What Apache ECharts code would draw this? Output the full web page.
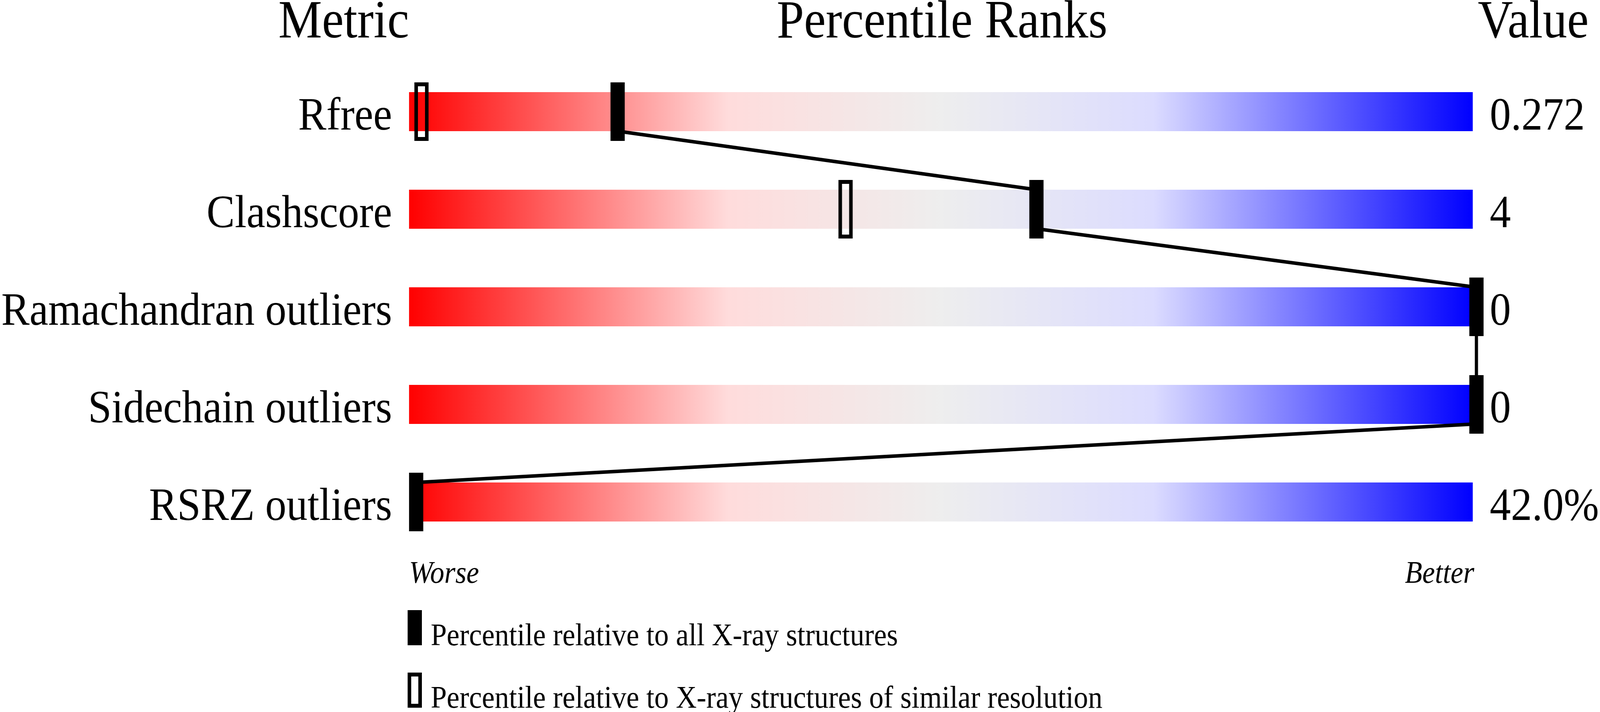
<!DOCTYPE html>
<html><head><meta charset="utf-8">
<script src="https://cdn.jsdelivr.net/npm/echarts@6/dist/echarts.min.js"></script>
<style>html,body{margin:0;padding:0;background:#fff;overflow:hidden}#c{width:4506px;height:1824px;transform-origin:0 0}</style>
</head><body><div id="c"></div>
<script>
// ---- data ----
const metrics = ['Rfree', 'Clashscore', 'Ramachandran outliers', 'Sidechain outliers', 'RSRZ outliers'];
const valueLabels = ['0.272', '4', '0', '0', '42.0%'];
const pctAll = [19, 58.5, 100, 100, 0];            // percentile vs all X-ray structures
const pctSimilar = [0.5, 40.5, null, null, null];   // percentile vs similar resolution
const scaleFull = [100, 100, 100, 100, 100];
const headers = ['Metric', 'Percentile Ranks', 'Value'];
const scaleEnds = ['Worse', 'Better'];
const legendTexts = ['Percentile relative to all X-ray structures', 'Percentile relative to X-ray structures of similar resolution'];

const FONT = "'Liberation Serif', 'Times New Roman', Times, serif";
const allData = pctAll.map((v, i) => [v, i]);
const simData = [];
pctSimilar.forEach((v, i) => { if (v !== null) simData.push([v, i]); });
const segData = [];
for (let i = 0; i < pctAll.length - 1; i++) segData.push([pctAll[i], i, pctAll[i + 1], i + 1]);

const el = document.getElementById('c');
// fit the 4506x1824 drawing into whatever viewport the browser really has
const vw = window.innerWidth || 4506, vh = window.innerHeight || 1824;
el.style.transform = 'scale(' + (vw / 4506) + ',' + (vh / 1824) + ')';

const chart = echarts.init(el, null, {renderer: 'canvas'});

function txt(text, x, y, size, align, italic) {
  return {
    type: 'text', x: x, y: y, z: 10,
    style: {
      text: text, fill: '#000',
      font: (italic ? 'italic ' : '') + size + 'px ' + FONT,
      align: align, textAlign: align, verticalAlign: 'middle', textVerticalAlign: 'middle'
    }
  };
}

const option = {
  backgroundColor: '#ffffff',
  animation: false,
  grid: [
    {left: 1152, top: 161, width: 3000, height: 1250},
    {left: 1172, top: 161, width: 2986, height: 1250}
  ],
  xAxis: [
    {type: 'value', gridIndex: 0, min: 0, max: 100, show: false},
    {type: 'value', gridIndex: 1, min: 0, max: 100, show: false}
  ],
  yAxis: [
    {type: 'category', gridIndex: 0, data: metrics, inverse: true, position: 'left',
     axisLine: {show: false}, axisTick: {show: false}, splitLine: {show: false},
     axisLabel: {interval: 0, color: '#000', fontFamily: FONT, fontSize: 119, margin: 48,
                 verticalAlign: 'top', lineHeight: 30}},
    {type: 'category', gridIndex: 0, data: valueLabels, inverse: true, position: 'right',
     axisLine: {show: false}, axisTick: {show: false}, splitLine: {show: false},
     axisLabel: {interval: 0, color: '#000', fontFamily: FONT, fontSize: 119, margin: 48,
                 verticalAlign: 'top', lineHeight: 30}},
    {type: 'category', gridIndex: 1, data: metrics, inverse: true, show: false}
  ],
  series: [
    {
      type: 'bar', xAxisIndex: 0, yAxisIndex: 0, data: scaleFull, barWidth: 100, z: 1,
      itemStyle: {
        color: {type: 'linear', x: 0, y: 0, x2: 1, y2: 0, colorStops: [
          {offset: 0, color: '#ff0000'},
          {offset: 0.3, color: '#ffdcdc'},
          {offset: 0.5, color: '#eeeeee'},
          {offset: 0.7, color: '#dcdcff'},
          {offset: 1, color: '#0000ff'}
        ]}
      },
      silent: true
    },
    {
      type: 'custom', xAxisIndex: 1, yAxisIndex: 2, data: segData, z: 3,
      encode: {x: [0, 2], y: [1, 3]},
      renderItem: function (params, api) {
        const a = api.coord([api.value(0), api.value(1)]);
        const b = api.coord([api.value(2), api.value(3)]);
        const half = api.size([0, 1])[1] * 0.2;
        return {type: 'line', shape: {x1: a[0], y1: a[1] + half, x2: b[0], y2: b[1] - half},
                style: {stroke: '#000', lineWidth: 9, fill: null}};
      },
      silent: true
    },
    {
      type: 'custom', xAxisIndex: 1, yAxisIndex: 2, data: simData, z: 4,
      encode: {x: 0, y: 1},
      renderItem: function (params, api) {
        const p = api.coord([api.value(0), api.value(1)]);
        return {type: 'rect', shape: {x: p[0] - 15, y: p[1] - 70, width: 30, height: 140},
                style: {fill: 'none', stroke: '#000', lineWidth: 10}};
      },
      silent: true
    },
    {
      type: 'custom', xAxisIndex: 1, yAxisIndex: 2, data: allData, z: 5,
      encode: {x: 0, y: 1},
      renderItem: function (params, api) {
        const p = api.coord([api.value(0), api.value(1)]);
        return {type: 'rect', shape: {x: p[0] - 20, y: p[1] - 75, width: 40, height: 150},
                style: {fill: '#000'}};
      },
      silent: true
    }
  ],
  graphic: [
    txt(headers[0], 968, 60, 138, 'center', false),
    txt(headers[1], 2653, 60, 138, 'center', false),
    txt(headers[2], 4318, 60, 137, 'center', false),
    txt(scaleEnds[0], 1152, 1472, 80, 'left', true),
    txt(scaleEnds[1], 4152, 1472, 80, 'right', true),
    {type: 'rect', shape: {x: 1148, y: 1563, width: 40, height: 90}, style: {fill: '#000'}},
    {type: 'rect', shape: {x: 1153, y: 1728, width: 30, height: 80}, style: {fill: 'none', stroke: '#000', lineWidth: 10}},
    txt(legendTexts[0], 1213, 1632, 81, 'left', false),
    txt(legendTexts[1], 1213, 1792, 81, 'left', false)
  ]
};
chart.setOption(option);
</script>
</body></html>
